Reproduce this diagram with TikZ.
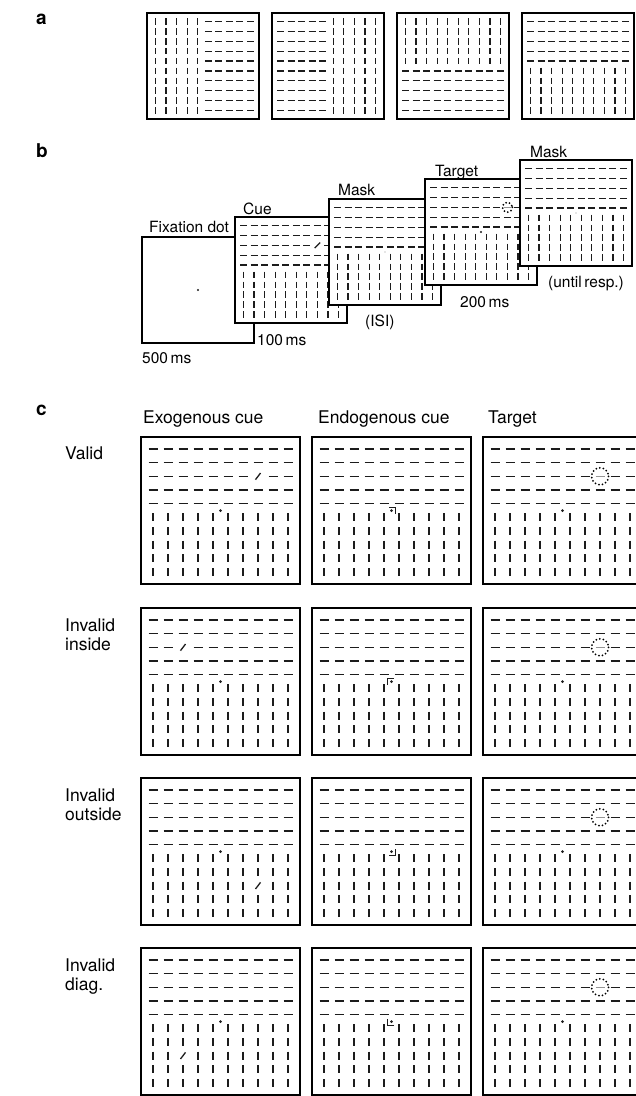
\documentclass[tikz,border=0pt]{standalone}
\usepackage{fontspec}
\setmainfont{TeX Gyre Heros}
\usepackage{tikz}
\usetikzlibrary{positioning}
\definecolor{inkgray}{RGB}{28,28,28}
\definecolor{fadegray}{RGB}{150,150,150}
\tikzset{
  boxline/.style={draw=black, line width=1.5pt},
  elem/.style={draw=inkgray, line width=1.3pt},
  cuemark/.style={draw=inkgray, line width=1pt},
  tgtring/.style={draw=black, line width=2pt, line cap=round, dash pattern=on 0pt off 3.6pt},
  panel/.style={anchor=base west, inner sep=0pt, font=\fontsize{19}{19}\selectfont\bfseries},
  lblb/.style={anchor=base west, inner sep=0pt, font=\fontsize{15.5}{16}\selectfont},
  lblc/.style={anchor=base west, inner sep=0pt, font=\fontsize{17.5}{18}\selectfont},
}
% centre of cell (#5,#6) of a 10x10 texture in box #1,#2 (left, top), size #3 x #4
\newcommand{\cellpos}[6]{%
  \pgfmathsetmacro{\ex}{#1+\mgn+#5*(#3-2*\mgn)/9}%
  \pgfmathsetmacro{\ey}{#2+\mgn+#6*(#4-2*\mgn)/9}}
% texture box: #5 = test for a horizontal element, #6 = test for the cell left out
\newcommand{\texbox}[6]{%
  \fill[white] (#1,#2) rectangle ++(#3,#4);
  \foreach \ix in {0,...,9}{
    \foreach \iy in {0,...,9}{
      \cellpos{#1}{#2}{#3}{#4}{\ix}{\iy}
      \pgfmathtruncatemacro{\hz}{#5}
      \pgfmathtruncatemacro{\sk}{#6}
      \ifnum\sk=0
        \ifnum\hz=1
          \draw[elem] ({\ex-\hlen/2},\ey) -- ++(\hlen,0);
        \else
          \draw[elem] (\ex,{\ey-\vlen/2}) -- ++(0,\vlen);
        \fi
      \fi
    }
  }
  \draw[boxline] (#1,#2) rectangle ++(#3,#4);
}
% oblique cue element
\newcommand{\tilt}[2]{\draw[elem] ({#1-\tlx},{#2+\tly}) -- ({#1+\tlx},{#2-\tly});}
% target: faded element in a dotted ring
\newcommand{\tgt}[3]{%
  \draw[elem, draw=fadegray] ({#1-\hlen/2},#2) -- ++(\hlen,0);
  \draw[tgtring] (#1,#2) circle (#3);}
% endogenous cue: corner next to the fixation dot
\newcommand{\cornermark}[4]{%
  \draw[cuemark] ({#1-#3*2.5},{#2-#4*3.5}) -- ({#1+#3*4},{#2-#4*3.5}) -- ({#1+#3*4},{#2+#4*3});}

\begin{document}
\begin{tikzpicture}[x=1pt, y=-1pt]
  \useasboundingbox (0,0) rectangle (636,1096);
  \clip (0,0) rectangle (636,1096);

  % panel letters
  \node[panel] (pa) at (36,24) {a};
  \node[panel] (pb) at (36,157) {b};
  \node[panel] (pc) at (36,415) {c};

  %% a: texture-defined figures
  \def\mgn{8.5}\def\hlen{7}\def\vlen{6.5}
  \texbox{147}{13}{112}{106}{\ix>4}{0}
  \texbox{272}{13}{112}{106}{\ix<5}{0}
  \texbox{397}{13}{112}{106}{\iy>4}{0}
  \texbox{522}{13}{112}{106}{\iy<5}{0}

  %% b: trial sequence
  \def\tlx{2.8}\def\tly{2.8}
  % fixation
  \fill[white] (142,237) rectangle ++(112,106);
  \draw[boxline] (142,237) rectangle ++(112,106);
  \fill[inkgray] (198,290) circle (1.2);
  % cue
  \texbox{235}{217}{112}{106}{\iy<5}{\ix==7 && \iy==2}
  \cellpos{235}{217}{112}{106}{7}{2}
  \tilt{\ex}{\ey}
  % mask (ISI)
  \texbox{329}{199}{112}{106}{\iy<5}{0}
  \fill[fadegray] (385,252) circle (0.7);
  % target
  \texbox{425}{179}{112}{106}{\iy<5}{\ix==7 && \iy==2}
  \cellpos{425}{179}{112}{106}{7}{2}
  \tgt{\ex}{\ey}{5}
  \fill[inkgray] (481,232) circle (1.2);
  % mask until response
  \texbox{520}{160}{112}{106}{\iy<5}{0}
  \fill[fadegray] (576,213) circle (0.7);

  \node[lblb] (fixlbl) at (149,232) {Fixation dot};
  \node[lblb] (cuelbl) at (243,214) {Cue};
  \node[lblb] (msklbl) at (338,195) {Mask};
  \node[lblb] (tgtlbl) at (435,176) {Target};
  \node[lblb] (mskbl2) at (530,157) {Mask};
  \node[lblb] (t500) at (142,363) {500\,ms};
  \node[lblb] (t100) at (257,345) {100\,ms};
  \node[lblb] (tisi) at (365,326) {(ISI)};
  \node[lblb] (t200) at (460,307) {200\,ms};
  \node[lblb] (tresp) at (548,287) {(until\,resp.)};

  %% c: cue conditions
  \node[lblc] (exohd) at (143,423) {Exogenous cue};
  \node[lblc] (endohd) at (318,423) {Endogenous cue};
  \node[lblc] (tgthd) at (488,423) {Target};

  \def\mgn{12}\def\hlen{9}\def\vlen{8}
  \def\tlx{2.5}\def\tly{3.3}
  \foreach \ty/\cx/\cy/\sx/\sy in {437/7/2/1/1, 608/2/2/-1/1, 778/7/7/1/-1, 948/2/7/-1/-1}{
    % exogenous
    \texbox{141}{\ty}{159}{147}{\iy<5}{\ix==\cx && \iy==\cy}
    \cellpos{141}{\ty}{159}{147}{\cx}{\cy}
    \tilt{\ex}{\ey}
    \fill[inkgray] (220.5,{\ty+73.5}) circle (1.5);
    % endogenous
    \texbox{312}{\ty}{159}{147}{\iy<5}{0}
    \fill[inkgray] (391.5,{\ty+73.5}) circle (1.5);
    \cornermark{391.5}{\ty+73.5}{\sx}{\sy}
    % target
    \texbox{483}{\ty}{159}{147}{\iy<5}{\ix==7 && \iy==2}
    \cellpos{483}{\ty}{159}{147}{7}{2}
    \tgt{\ex}{\ey}{8.5}
    \fill[inkgray] (562.5,{\ty+73.5}) circle (1.5);
  }

  \node[lblc] (valid) at (65,459) {Valid};
  \node[lblc] (ins1) at (65,631) {Invalid};
  \node[lblc] (ins2) at (65,650) {inside};
  \node[lblc] (out1) at (65,801) {Invalid};
  \node[lblc] (out2) at (65,820) {outside};
  \node[lblc] (dia1) at (65,971) {Invalid};
  \node[lblc] (dia2) at (65,990) {diag.};
\end{tikzpicture}
\end{document}
